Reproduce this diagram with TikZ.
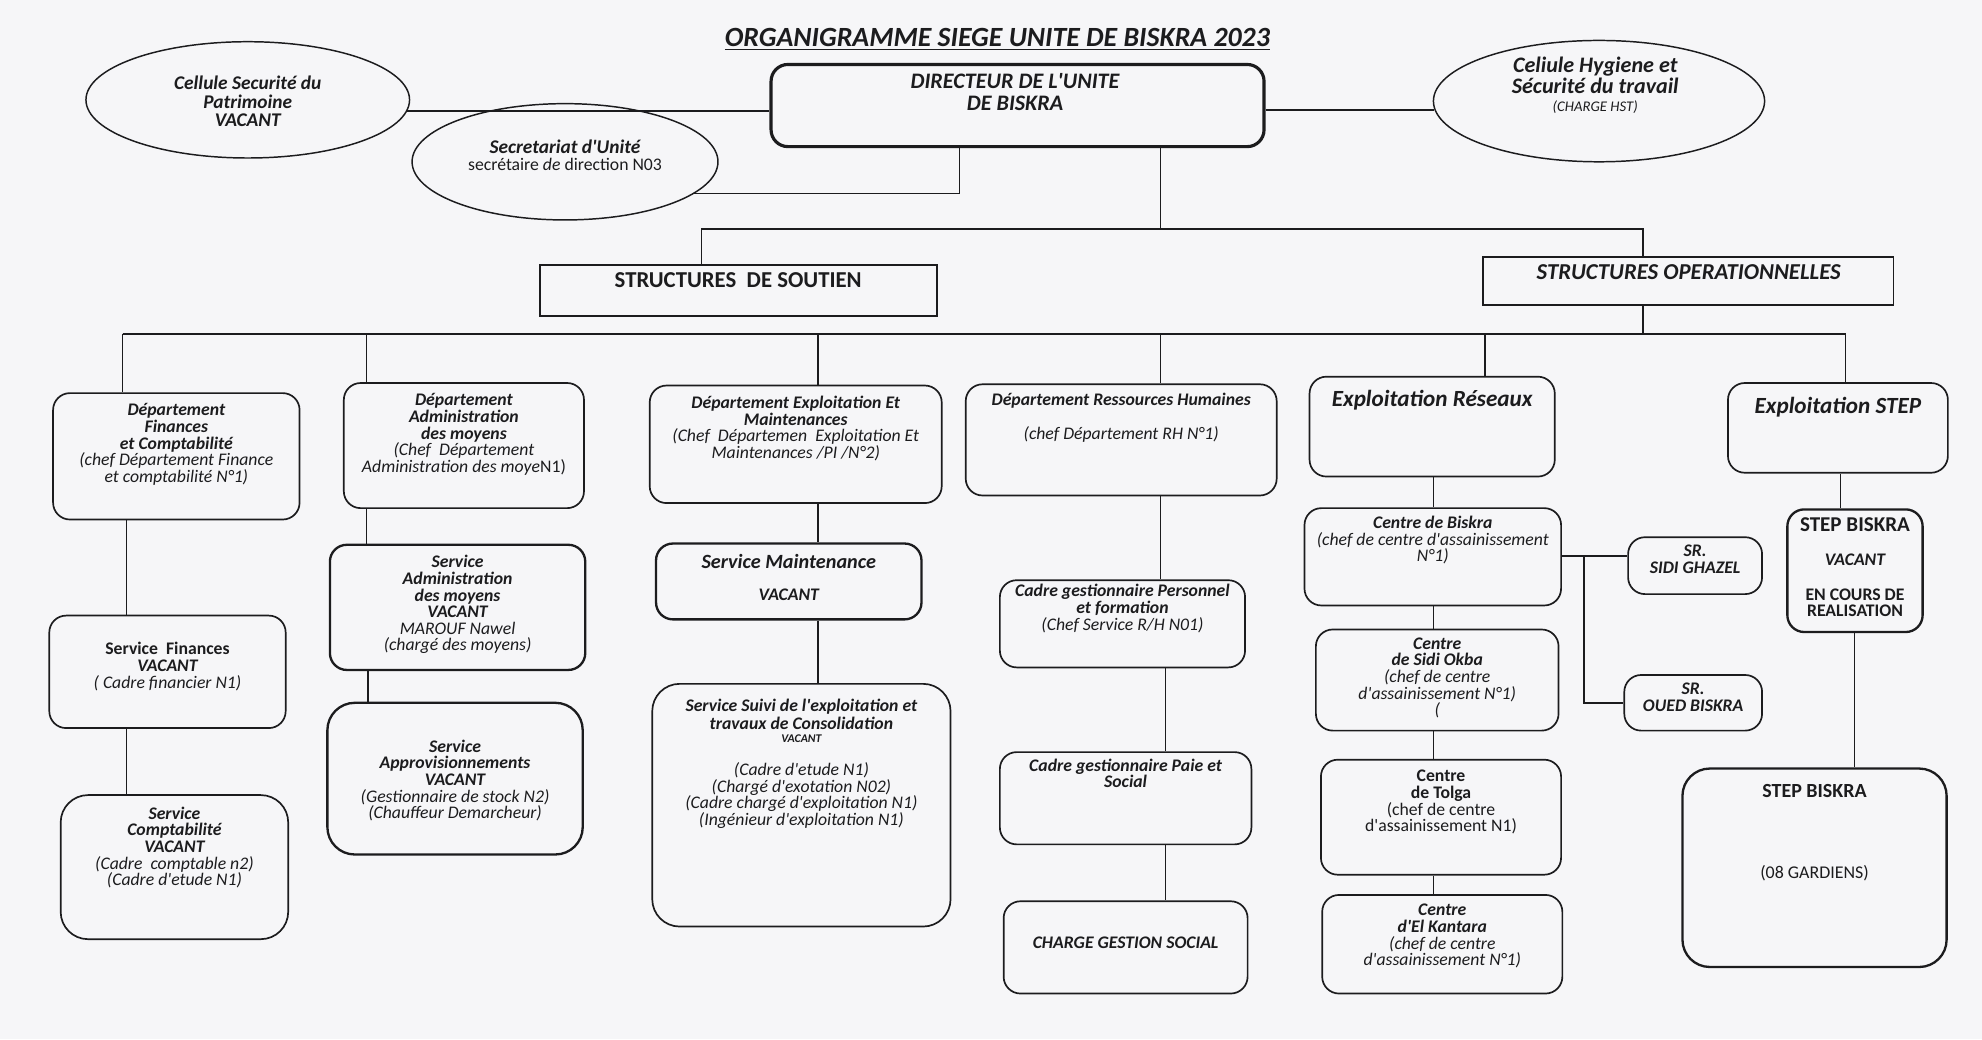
\documentclass[tikz,border=0pt]{standalone}
\usepackage{fontspec}
\setmainfont{Carlito}[Ligatures=TeXOff]
\usetikzlibrary{shapes.geometric}
\definecolor{paper}{RGB}{246,246,248}
\definecolor{ink}{RGB}{28,28,30}
\newcommand\BI[1]{{\bfseries\itshape #1}}
\newcommand\IT[1]{{\itshape #1}}
\newcommand\BF[1]{{\bfseries #1}}
\newcommand\fsz{\fontsize{8.4}{7.9}\selectfont}
\tikzset{
  rbox/.style={draw=ink, line width=0.8pt, rounded corners=8pt, inner sep=0pt},
  rboxb/.style={rbox, line width=1.1pt},
  bigbox/.style={rbox, rounded corners=13pt},
  bigboxb/.style={bigbox, line width=1.1pt},
  sqbox/.style={draw=ink, line width=0.9pt, inner sep=0pt},
  ell/.style={draw=ink, ellipse, line width=0.7pt, inner sep=0pt},
  txt/.style={align=center, inner sep=0pt, anchor=north, font=\fsz, text=ink},
  conn/.style={draw=ink, line width=0.8pt},
  thinconn/.style={draw=ink, line width=0.5pt},
}
% style, name, x1, y1, x2, y2, y of first line, text
\newcommand\obox[8][rbox]{%
  \node[#1, minimum width={(#5-#3)*0.6pt}, minimum height={(#6-#4)*0.6pt}] (#2) at ({(#3+#5)/2},{(#4+#6)/2}) {};
  \node[txt] (#2t) at ({(#3+#5)/2},{#7-5}) {#8};}
\begin{document}
\begin{tikzpicture}[x=0.6pt,y=-0.6pt]
\fill[paper] (0,0) rectangle (1568,822);
\useasboundingbox (0,0) rectangle (1568,822);

% title
\node[inner sep=0pt, text=ink, font=\fontsize{13.2}{15}\selectfont\bfseries\itshape] (title) at (789,31) {\underline{ORGANIGRAMME SIEGE UNITE DE BISKRA 2023}};

% top level
\node[draw=ink, line width=1.5pt, rounded corners=8pt, minimum width={390*0.6pt}, minimum height={65*0.6pt}] (dir) at (805,83.5) {};
\node[txt, font=\fontsize{10.5}{10.2}\selectfont\bfseries\itshape] (dirt) at (803,58) {DIRECTEUR DE L'UNITE\\DE BISKRA};

\node[ell, minimum width={256*0.6pt}, minimum height={92*0.6pt}] (cel) at (196,79) {};
\node[txt, font=\fontsize{9.2}{8.7}\selectfont\bfseries\itshape] (celt) at (196,60) {Cellule Securité du\\Patrimoine\\VACANT};

\node[ell, minimum width={262*0.6pt}, minimum height={96*0.6pt}] (hyg) at (1265,80) {};
\node[txt, font=\fontsize{10.5}{9.6}\selectfont\bfseries\itshape] (hygt) at (1262,45) {Celiule Hygiene et\\Sécurité du travail\\[-1pt]{\fontsize{7}{7}\selectfont\mdseries(CHARGE HST)}};

\node[ell, minimum width={242*0.6pt}, minimum height={92*0.6pt}] (sec) at (447,128) {};
\node[txt] (sect) at (447,110) {{\fontsize{9.2}{9}\selectfont\BI{Secretariat d'Unité}}\\[0.5pt]{\fontsize{8.4}{8}\selectfont secrétaire \IT{de} direction N03}};

\draw[conn] (cel.-4.6) -- (dir.west |- cel.-4.6);
\draw[conn] (dir.east |- hyg.183.1) -- (hyg.183.1);
\coordinate (sx) at (759,0);
\draw[thinconn] (sec.-14.6) -| (dir.south -| sx);

% structures
\node[sqbox, minimum width={314*0.6pt}, minimum height={40*0.6pt}] (soutien) at (584,230) {};
\node[inner sep=0pt, text=ink, font=\fontsize{10.8}{11}\selectfont\bfseries] (soutient) at (584,222) {STRUCTURES~~DE SOUTIEN};
\node[sqbox, minimum width={325*0.6pt}, minimum height={38*0.6pt}] (oper) at (1335.5,222) {};
\node[inner sep=0pt, text=ink, font=\fontsize{10.8}{11}\selectfont\bfseries\itshape] (opert) at (1336,215) {STRUCTURES OPERATIONNELLES};

\coordinate (jt) at (918,181);
\coordinate (jtL) at (555,181);
\coordinate (jtR) at (1300,181);
\draw[conn] (dir.south -| jt) -- (jt);
\draw[conn] (soutien.north -| jtL) -- (jtL) -- (jtR) -- (oper.north -| jtR);

% departments
\obox{dfin}{42}{311}{237}{411}{324}{\BI{Département}\\\BI{Finances}\\\BI{et Comptabilité}\\\IT{(chef Département Finance}\\\IT{et comptabilité N°1)}}
\obox{dadm}{272}{303}{462}{402}{316}{\BI{Département}\\\BI{Administration}\\\BI{des moyens}\\\IT{(Chef~~Département}\\\IT{Administration des moye}N1)}
\obox{dexp}{514}{305}{745}{398}{318}{\BI{Département Exploitation Et}\\\BI{Maintenances}\\\IT{(Chef~~Départemen~~Exploitation Et}\\\IT{Maintenances /PI /N°2)}}
\obox{drh}{764}{304}{1010}{392}{316}{\BI{Département Ressources Humaines}\\[7.8pt]\IT{(chef Département RH N°1)}}
\obox{dres}{1036}{298}{1230}{377}{313}{{\fontsize{11}{11}\selectfont\BI{Exploitation Réseaux}}}
\obox{dstep}{1367}{303}{1541}{374}{319}{{\fontsize{11}{11}\selectfont\BI{Exploitation STEP}}}

\coordinate (jb) at (1300,264);
\coordinate (b1) at (97,264);
\coordinate (b2) at (290,264);
\coordinate (b3) at (647,264);
\coordinate (b4) at (918,264);
\coordinate (b5) at (1175,264);
\coordinate (b6) at (1460,264);
\draw[conn] (oper.south -| jb) -- (jb);
\draw[conn] (b1) -- (b6);
\draw[conn] (b1) -- (dfin.north -| b1);
\draw[conn] (b2) -- (dadm.north -| b2);
\draw[conn] (b3) -- (dexp.north -| b3);
\draw[conn] (b4) -- (drh.north -| b4);
\draw[conn] (b5) -- (dres.north -| b5);
\draw[conn] (b6) -- (dstep.north -| b6);

% column 1
\obox{sfin}{39}{487}{226}{576}{513}{\BF{Service~~Finances}\\\BI{VACANT}\\\IT{( Cadre financier N1)}}
\obox[bigbox]{scpt}{48}{629}{228}{743}{643}{\BI{Service}\\\BI{Comptabilité}\\\BI{VACANT}\\\IT{(Cadre~~comptable n2)}\\\IT{(Cadre d'etude N1)}}
% column 2
\obox[rboxb]{sadm}{261}{431}{463}{530}{444}{\BI{Service}\\\BI{Administration}\\\BI{des moyens}\\\BI{VACANT}\\\IT{MAROUF Nawel}\\\IT{(chargé des moyens)}}
\obox[bigboxb]{sapp}{259}{556}{461}{676}{590}{\BI{Service}\\\BI{Approvisionnements}\\\BI{VACANT}\\\IT{(Gestionnaire de stock N2)}\\\IT{(Chauffeur Demarcheur)}}
% column 3
\obox[rboxb]{smnt}{519}{430}{729}{490}{443}{{\fontsize{9.6}{9}\selectfont\BI{Service Maintenance}}\\[7.4pt]\BI{VACANT}}
\obox[bigbox]{ssuiv}{516}{541}{752}{733}{558}{\BI{Service Suivi de l'exploitation et}\\[0.5pt]\BI{travaux de Consolidation}\\[-1.6pt]{\fontsize{5.6}{6}\selectfont\BI{VACANT}}\\[7.6pt]\IT{(Cadre d'etude N1)}\\\IT{(Chargé d'exotation N02)}\\\IT{(Cadre chargé d'exploitation N1)}\\\IT{(Ingénieur d'exploitation N1)}}
% column 4
\obox{cgp}{791}{459}{985}{528}{467}{\BI{Cadre gestionnaire Personnel}\\\BI{et formation}\\\IT{(Chef Service R/H N01)}}
\obox{cpaie}{791}{595}{990}{668}{605}{\BI{Cadre gestionnaire Paie et}\\\BI{Social}}
\obox{cgs}{794}{713}{987}{786}{746}{\BI{CHARGE GESTION SOCIAL}}
% column 5
\obox{cbis}{1032}{402}{1235}{479}{413}{\BI{Centre de Biskra}\\\IT{(chef de centre d'assainissement}\\\IT{N°1)}}
\obox{csok}{1041}{498}{1233}{578}{509}{\BI{Centre}\\\BI{de Sidi Okba}\\\IT{(chef de centre}\\\IT{d'assainissement N°1)}\\\IT{(}}
\obox{ctol}{1045}{601}{1235}{692}{614}{\BF{Centre}\\\BF{de Tolga}\\(chef de centre\\d'assainissement N1)}
\obox{ckan}{1046}{708}{1236}{786}{720}{\BI{Centre}\\\BI{d'El Kantara}\\\IT{(chef de centre}\\\IT{d'assainissement N°1)}}
\obox{srg}{1288}{425}{1394}{470}{436}{\BI{SR.}\\\BI{SIDI GHAZEL}}
\obox{sro}{1285}{534}{1394}{578}{545}{\BI{SR.}\\\BI{OUED BISKRA}}
% column 6
\obox[rboxb]{stp1}{1414}{403}{1521}{500}{414}{{\fontsize{10}{9}\selectfont\BF{STEP BISKRA}}\\[8.6pt]\BI{VACANT}\\[8.3pt]\BF{EN COURS DE}\\\BF{REALISATION}}
\obox[bigboxb]{stp2}{1331}{608}{1540}{765}{625}{{\fontsize{9.5}{9}\selectfont\BF{STEP BISKRA}}\\[30.5pt]{\fontsize{8.5}{8}\selectfont (08 GARDIENS)}}

% column connectors
\coordinate (c1) at (100,0);
\coordinate (c2) at (290,0);
\coordinate (c2b) at (291,0);
\coordinate (c3) at (647,0);
\coordinate (c4) at (918,0);
\coordinate (c4b) at (922,0);
\coordinate (c5) at (1134,0);
\coordinate (c6) at (1456,0);
\coordinate (c6b) at (1467,0);
\draw[conn] (dfin.south -| c1) -- (sfin.north -| c1);
\draw[conn] (sfin.south -| c1) -- (scpt.north -| c1);
\draw[conn] (dadm.south -| c2) -- (sadm.north -| c2);
\draw[conn] (sadm.south -| c2b) -- (sapp.north -| c2b);
\draw[conn] (dexp.south -| c3) -- (smnt.north -| c3);
\draw[conn] (smnt.south -| c3) -- (ssuiv.north -| c3);
\draw[conn] (drh.south -| c4) -- (cgp.north -| c4);
\draw[conn] (cgp.south -| c4b) -- (cpaie.north -| c4b);
\draw[conn] (cpaie.south -| c4b) -- (cgs.north -| c4b);
\draw[conn] (dres.south -| c5) -- (cbis.north -| c5);
\draw[conn] (cbis.south -| c5) -- (csok.north -| c5);
\draw[conn] (csok.south -| c5) -- (ctol.north -| c5);
\draw[conn] (ctol.south -| c5) -- (ckan.north -| c5);
\draw[conn] (dstep.south -| c6) -- (stp1.north -| c6);
\draw[conn] (stp1.south -| c6b) -- (stp2.north -| c6b);
\coordinate (sg) at (1253,440);
\draw[conn] (cbis.east |- sg) -- (sg) -- (srg.west |- sg);
\draw[conn] (sg) |- (sro.west);
\end{tikzpicture}
\end{document}
